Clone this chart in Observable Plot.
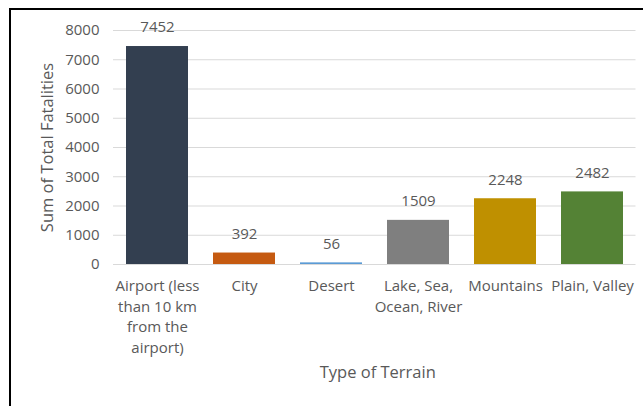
<!DOCTYPE html>
<html>
<head>
<meta charset="utf-8">
<script src="https://cdn.jsdelivr.net/npm/d3@7"></script>
<script src="https://cdn.jsdelivr.net/npm/@observablehq/plot@0.6"></script>
<style>
  html, body { margin: 0; padding: 0; background: #fff; overflow: hidden; }
  #wrap { position: relative; width: 643px; height: 406px; overflow: hidden; }
  #border { position: absolute; left: 9px; top: 8px; width: 800px; height: 600px;
            border-left: 2px solid #000; border-top: 2px solid #000; pointer-events: none; }
</style>
</head>
<body>
<div id="wrap"><div id="chart"></div><div id="border"></div></div>
<script>
const categories = ["Airport (less than 10 km from the airport)", "City", "Desert", "Lake, Sea, Ocean, River", "Mountains", "Plain, Valley"];
const tickLabels = ["Airport (less\nthan 10 km\nfrom the\nairport)", "City", "Desert", "Lake, Sea,\nOcean, River", "Mountains", "Plain, Valley"];
const fatalities = [7452, 392, 56, 1509, 2248, 2482];
const barColors = ["#333f50", "#c55a11", "#5b9bd5", "#7f7f7f", "#bf9000", "#548235"];
const yTicks = [0, 1000, 2000, 3000, 4000, 5000, 6000, 7000, 8000];
const xTitle = "Type of Terrain";
const yTitle = "Sum of Total Fatalities";

const data = categories.map((c, i) => ({category: c, label: tickLabels[i], value: fatalities[i], color: barColors[i]}));
const textColor = "#595959";

const chart = Plot.plot({
  width: 643,
  height: 406,
  marginLeft: 113,
  marginRight: 7.5,
  marginTop: 30,
  marginBottom: 142,
  style: {fontFamily: "'Open Sans', sans-serif", fontSize: "15px", color: textColor, background: "transparent"},
  x: {domain: categories, paddingInner: 0.29, paddingOuter: 0.145, axis: null},
  y: {domain: [0, 8000], axis: null},
  marks: [
    Plot.ruleY(yTicks, {stroke: "#d9d9d9", strokeWidth: 1}),
    Plot.axisY({ticks: yTicks, tickSize: 0, tickPadding: 14, tickFormat: d => String(d), fontSize: 15, fill: textColor, label: null}),
    Plot.barY(data, {x: "category", y: "value", fill: "color"}),
    Plot.text(data, {x: "category", y: "value", text: d => String(d.value), dy: -19, fill: textColor, fontSize: 15}),
    Plot.text(data, {x: "category", y: d => 0, text: "label", dy: 12, lineAnchor: "top", lineHeight: 1.37, fill: textColor, fontSize: 15}),
    Plot.text([xTitle], {frameAnchor: "bottom", dx: 3, dy: 113, fill: textColor, fontSize: 16.5}),
    Plot.text([yTitle], {frameAnchor: "left", textAnchor: "middle", rotate: -90, dx: -66, fill: textColor, fontSize: 16.5})
  ]
});
document.getElementById("chart").appendChild(chart);
</script>
</body>
</html>
